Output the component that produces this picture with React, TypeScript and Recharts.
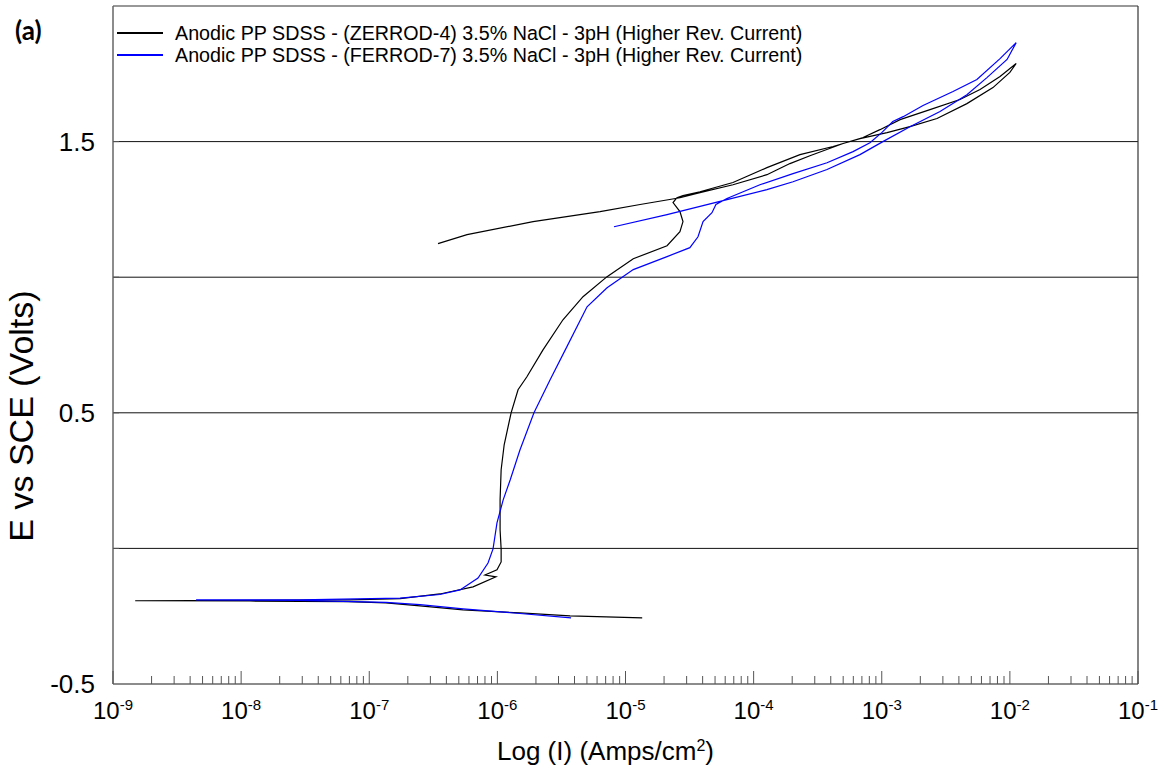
import { LineChart, Line, XAxis, YAxis, ReferenceLine, Legend } from "recharts";

const FONT = "'Liberation Sans', Arial, sans-serif";
const TICK_GAP = 18;

// current density (A/cm2) and potential (V vs SCE), in scan order
const zerrodCurrent = [
  1.35e-5, 3.69e-6, 1.5e-6, 5.4e-7, 2.49e-7, 1.35e-7, 6.83e-8, 1.17e-8, 1.49e-9,
  1.17e-8, 7.08e-8, 1.74e-7, 3.56e-7, 6.46e-7, 9.75e-7, 8.0e-7, 9.93e-7, 1.07e-6, 1.07e-6,
  1.05e-6, 1.05e-6, 1.07e-6, 1.13e-6, 1.28e-6, 1.45e-6, 1.7e-6, 2.27e-6, 3.25e-6, 4.66e-6,
  7.18e-6, 1.15e-5, 2.11e-5, 2.66e-5, 2.81e-5, 2.66e-5, 2.35e-5, 2.52e-5, 2.81e-5, 3.81e-5,
  6.9e-5, 1.27e-4, 2.3e-4, 4.17e-4, 7.15e-4, 9.68e-4, 1.39e-3, 2.38e-3, 4.08e-3, 5.85e-3,
  8.38e-3, 1.12e-2,
  1.0e-2, 7.38e-3, 4.62e-3, 2.7e-3, 1.66e-3, 1.1e-3, 6.76e-4, 4.99e-4, 2.75e-4, 1.92e-4,
  1.27e-4, 6.9e-5, 3.81e-5, 2.66e-5, 1.3e-5, 6.33e-6, 1.9e-6, 5.8e-7, 3.44e-7,
];
const zerrodPotential = [
  -0.256, -0.249, -0.238, -0.227, -0.212, -0.201, -0.196, -0.194, -0.193,
  -0.192, -0.19, -0.185, -0.168, -0.142, -0.105, -0.098, -0.079, -0.05, -0.002,
  0.068, 0.179, 0.29, 0.382, 0.5, 0.585, 0.633, 0.732, 0.843, 0.928,
  1.002, 1.068, 1.116, 1.168, 1.205, 1.242, 1.275, 1.293, 1.301, 1.315,
  1.349, 1.404, 1.452, 1.482, 1.515, 1.544, 1.581, 1.618, 1.655, 1.692,
  1.74, 1.788,
  1.755, 1.699, 1.64, 1.585, 1.555, 1.533, 1.511, 1.493, 1.448, 1.419,
  1.378, 1.341, 1.312, 1.293, 1.268, 1.242, 1.205, 1.157, 1.124,
];

const ferrodCurrent = [
  3.76e-6, 1.5e-6, 5.4e-7, 2.49e-7, 1.35e-7, 2.88e-8, 4.45e-9,
  2.88e-8, 1.74e-7, 3.56e-7, 5.11e-7, 7.06e-7, 8.45e-7, 9.25e-7, 9.93e-7, 1.11e-6, 1.26e-6,
  1.5e-6, 1.93e-6, 2.58e-6, 3.49e-6, 5.01e-6, 7.18e-6, 1.15e-5, 2.11e-5, 3.18e-5, 3.68e-5,
  4.03e-5, 4.73e-5, 5.08e-5, 6.19e-5, 1.12e-4, 2.03e-4, 3.74e-4, 5.97e-4, 8.09e-4, 1.0e-3,
  1.22e-3, 1.47e-3, 2.1e-3, 3.6e-3, 5.53e-3, 8.38e-3, 1.12e-2,
  9.51e-3, 6.62e-3, 4.62e-3, 2.85e-3, 1.66e-3, 1.02e-3, 6.76e-4, 3.74e-4, 2.03e-4, 1.27e-4,
  5.0e-5, 2.11e-5, 8.13e-6,
];
const ferrodPotential = [
  -0.256, -0.24, -0.223, -0.207, -0.199, -0.192, -0.19,
  -0.19, -0.183, -0.17, -0.153, -0.109, -0.054, -0.002, 0.094, 0.179, 0.253,
  0.363, 0.5, 0.622, 0.744, 0.891, 0.961, 1.028, 1.076, 1.109, 1.149,
  1.205, 1.238, 1.268, 1.29, 1.341, 1.382, 1.422, 1.463, 1.496, 1.533,
  1.574, 1.592, 1.633, 1.685, 1.729, 1.806, 1.865,
  1.803, 1.736, 1.673, 1.611, 1.555, 1.5, 1.452, 1.397, 1.352, 1.323,
  1.275, 1.231, 1.186,
];

const seriesNames = [
  "Anodic PP SDSS - (ZERROD-4) 3.5% NaCl - 3pH (Higher Rev. Current)",
  "Anodic PP SDSS - (FERROD-7) 3.5% NaCl - 3pH (Higher Rev. Current)",
];
const seriesColors = ["#000000", "#0000ff"];

const decadeTicks = [1e-9, 1e-8, 1e-7, 1e-6, 1e-5, 1e-4, 1e-3, 1e-2, 1e-1];
const minorMultipliers = [2, 3, 4, 5, 6, 7, 8, 9];
const potentialTicks = [-0.5, 0, 0.5, 1, 1.5];
const potentialLabels = [-0.5, 0.5, 1.5];
const gridValues = [0, 0.5, 1, 1.5];

const xDomain = [1e-9, 1e-1];
const yDomain = [-0.5, 2];

const zip = (cur: number[], pot: number[]) => cur.map((i, k) => ({ i, e: pot[k] }));
const zerrodData = zip(zerrodCurrent, zerrodPotential);
const ferrodData = zip(ferrodCurrent, ferrodPotential);
const minorTicks = decadeTicks.slice(0, -1).flatMap((d) => minorMultipliers.map((m) => m * d));
const allXTicks = [...decadeTicks, ...minorTicks].sort((a, b) => a - b);

const isDecade = (v: number) => Math.abs(Math.log10(v) - Math.round(Math.log10(v))) < 1e-6;

// bottom tick: inward tick mark (long at decades) plus 10^n label
const CurrentTick = (props: any) => {
  const { x, y, payload } = props;
  const v = payload.value;
  const major = isDecade(v);
  const axisY = y - TICK_GAP;
  return (
    <g>
      <line x1={x} x2={x} y1={axisY} y2={axisY - (major ? 13 : 8)} stroke="#555" strokeWidth={1} />
      {major && (
        <text x={x} y={y} textAnchor="middle" fill="#000" fontSize={24} fontFamily={FONT}>
          <tspan dy="0.71em">10</tspan>
          <tspan dy={-9} fontSize={15}>{Math.round(Math.log10(v))}</tspan>
        </text>
      )}
    </g>
  );
};

// left tick: short inward mark plus label on every other value
const PotentialTick = (props: any) => {
  const { x, y, payload } = props;
  const v = payload.value;
  const axisX = x + TICK_GAP;
  return (
    <g>
      {v > yDomain[0] && <line x1={axisX} x2={axisX + 6} y1={y} y2={y} stroke="#555" strokeWidth={1} />}
      {potentialLabels.includes(v) && (
        <text x={x} y={y} dy="0.355em" textAnchor="end" fill="#000" fontSize={26} fontFamily={FONT}>
          {v}
        </text>
      )}
    </g>
  );
};

const XTitle = (props: any) => {
  const { viewBox } = props;
  return (
    <text x={viewBox.x + viewBox.width / 2 - 20} y={760} textAnchor="middle" fill="#000" fontSize={26} fontFamily={FONT}>
      Log (I) (Amps/cm<tspan dy={-9} fontSize={16}>2</tspan><tspan dy={9}>)</tspan>
    </text>
  );
};

const YTitle = (props: any) => {
  const { viewBox } = props;
  const cy = viewBox.y + viewBox.height / 2 + 71;
  return (
    <text x={21} y={cy} transform={`rotate(-90 21 ${cy})`} textAnchor="middle" dominantBaseline="central" fill="#000" fontSize={34} fontFamily={FONT}>
      E vs SCE (Volts)
    </text>
  );
};

const LegendBox = () => (
  <div style={{ fontFamily: FONT, fontSize: 19.7, lineHeight: "22px", color: "#000" }}>
    {seriesNames.map((name, k) => (
      <div key={name} style={{ display: "flex", alignItems: "center", whiteSpace: "nowrap" }}>
        <span style={{ display: "inline-block", width: 46, height: 1.3, background: seriesColors[k], marginRight: 12 }} />
        {name}
      </div>
    ))}
  </div>
);

export default function App() {
  return (
    <div style={{ position: "absolute", left: 0, top: 0, width: 1164, height: 769, background: "#fff" }}>
      <div style={{ position: "absolute", left: 15, top: 14, fontFamily: "Lato, sans-serif", fontWeight: 700, fontSize: 26 }}>
        (a)
      </div>
      <LineChart width={1164} height={769} margin={{ top: 5, right: 25, bottom: 0, left: 0 }}>
        <XAxis
          dataKey="i"
          type="number"
          scale="log"
          domain={xDomain}
          allowDataOverflow
          ticks={allXTicks}
          interval={0}
          tick={<CurrentTick />}
          tickLine={false}
          tickSize={0}
          tickMargin={TICK_GAP}
          height={85}
          axisLine={{ stroke: "#666", strokeWidth: 1.5 }}
          label={<XTitle />}
        />
        <XAxis xAxisId="top" orientation="top" type="number" scale="log" domain={xDomain} allowDataOverflow
          height={1} tick={false} tickLine={false} axisLine={{ stroke: "#333", strokeWidth: 1.2 }} />
        <YAxis
          type="number"
          domain={yDomain}
          allowDataOverflow
          ticks={potentialTicks}
          interval={0}
          width={113}
          tickLine={false}
          tickSize={0}
          tickMargin={TICK_GAP}
          tick={<PotentialTick />}
          axisLine={{ stroke: "#666", strokeWidth: 1.5 }}
          label={<YTitle />}
        />
        <YAxis yAxisId="right" orientation="right" type="number" domain={yDomain} allowDataOverflow
          width={1} tick={false} tickLine={false} axisLine={{ stroke: "#333", strokeWidth: 1.2 }} />
        {gridValues.map((v) => (
          <ReferenceLine key={v} y={v} stroke="#111" strokeWidth={1} />
        ))}
        <Legend
          layout="vertical"
          align="center"
          verticalAlign="middle"
          wrapperStyle={{ top: 22, left: 117, width: "auto" }}
          content={<LegendBox />}
        />
        <Line
          data={zerrodData}
          dataKey="e"
          name={seriesNames[0]}
          type="linear"
          stroke={seriesColors[0]}
          strokeWidth={1.2}
          dot={false}
          isAnimationActive={false}
        />
        <Line
          data={ferrodData}
          dataKey="e"
          name={seriesNames[1]}
          type="linear"
          stroke={seriesColors[1]}
          strokeWidth={1.2}
          dot={false}
          isAnimationActive={false}
        />
      </LineChart>
    </div>
  );
}
